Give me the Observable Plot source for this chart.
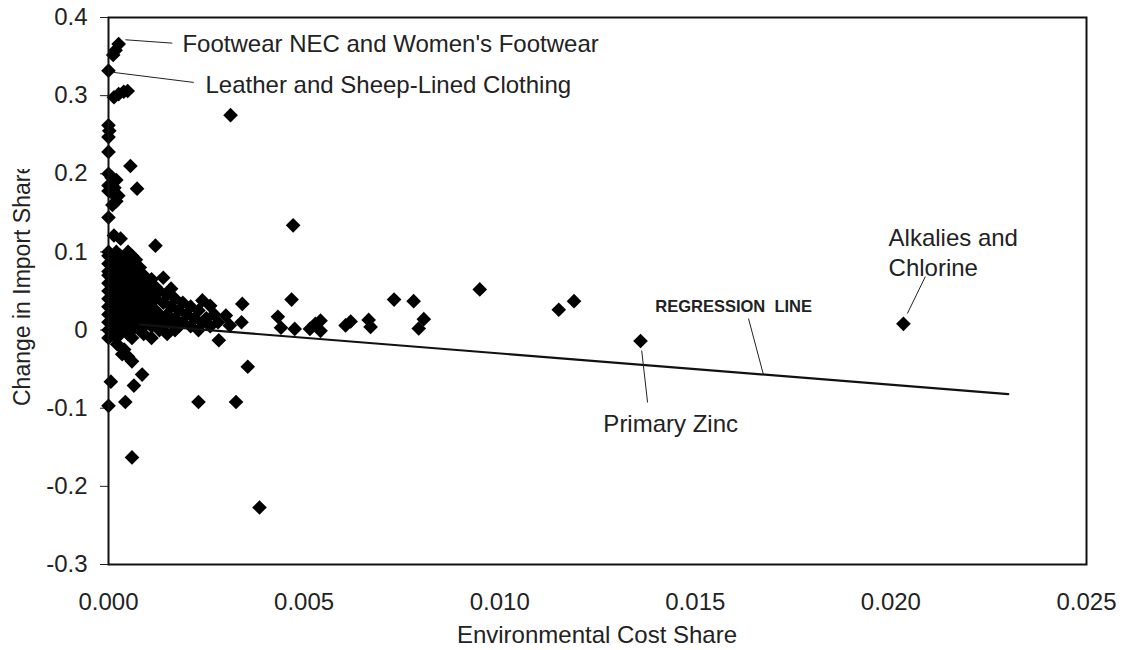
<!DOCTYPE html>
<html>
<head>
<meta charset="utf-8">
<script src="https://cdn.jsdelivr.net/npm/d3@7"></script>
<script src="https://cdn.jsdelivr.net/npm/@observablehq/plot@0.6"></script>
<style>
  html, body { margin: 0; padding: 0; background: #fff; }
  #chart { width: 1122px; height: 650px; }
</style>
</head>
<body>
<div id="chart"></div>
<script>
// ---- Data (x = environmental cost share, y = change in import share) ----
const topOutliers = [
  [0.00026, 0.366], [0.00018, 0.358], [0.00012, 0.352], [0.00000, 0.332],
  [0.00014, 0.298], [0.00026, 0.302], [0.00039, 0.305], [0.00049, 0.306],
  [0.00312, 0.275], [0.00000, 0.262], [0.00002, 0.255], [0.00000, 0.247],
  [0.00000, 0.228], [0.00056, 0.210],
  [0.00000, 0.200], [0.00008, 0.195], [0.00020, 0.192], [0.00010, 0.188],
  [0.00000, 0.185], [0.00015, 0.182], [0.00000, 0.178], [0.00010, 0.175],
  [0.00025, 0.172], [0.00073, 0.181], [0.00020, 0.165], [0.00010, 0.160],
  [0.00000, 0.144], [0.00014, 0.121], [0.00031, 0.117], [0.00120, 0.108]
];

const clusterPoints = [
  [0.0000, 0.100], [0.0002, 0.100], [0.0005, 0.100],
  [0.0000, 0.095], [0.0003, 0.095], [0.0006, 0.095],
  [0.0001, 0.090], [0.0004, 0.090], [0.0007, 0.090],
  [0.0000, 0.085], [0.0002, 0.085], [0.0005, 0.085],
  [0.0001, 0.080], [0.0003, 0.080], [0.0006, 0.080], [0.0008, 0.080],
  [0.0000, 0.075], [0.0002, 0.075], [0.0004, 0.075], [0.0007, 0.075],
  [0.0000, 0.070], [0.0003, 0.070], [0.0005, 0.070], [0.0009, 0.070],
  [0.0014, 0.067],
  [0.0001, 0.065], [0.0004, 0.065], [0.0006, 0.065], [0.0008, 0.065], [0.0011, 0.065],
  [0.0000, 0.060], [0.0002, 0.060], [0.0005, 0.060], [0.0007, 0.060], [0.0010, 0.060],
  [0.0001, 0.055], [0.0003, 0.055], [0.0006, 0.055], [0.0009, 0.055], [0.0012, 0.055],
  [0.0016, 0.053],
  [0.0000, 0.050], [0.0002, 0.050], [0.0004, 0.050], [0.0007, 0.050], [0.0010, 0.050], [0.0013, 0.050],
  [0.0001, 0.045], [0.0003, 0.045], [0.0005, 0.045], [0.0008, 0.045], [0.0011, 0.045], [0.0015, 0.045],
  [0.0000, 0.040], [0.0002, 0.040], [0.0004, 0.040], [0.0006, 0.040], [0.0009, 0.040], [0.0012, 0.040], [0.0017, 0.040],
  [0.0024, 0.038],
  [0.0001, 0.035], [0.0003, 0.035], [0.0005, 0.035], [0.0007, 0.035], [0.0010, 0.035], [0.0014, 0.035], [0.0019, 0.035],
  [0.0026, 0.031],
  [0.0000, 0.030], [0.0002, 0.030], [0.0004, 0.030], [0.0006, 0.030], [0.0008, 0.030], [0.0011, 0.030], [0.0016, 0.030], [0.0021, 0.030],
  [0.0001, 0.025], [0.0003, 0.025], [0.0005, 0.025], [0.0007, 0.025], [0.0009, 0.025], [0.0012, 0.025], [0.0018, 0.025], [0.0023, 0.025],
  [0.0000, 0.020], [0.0002, 0.020], [0.0004, 0.020], [0.0006, 0.020], [0.0008, 0.020], [0.0010, 0.020], [0.0013, 0.020], [0.0015, 0.020], [0.0020, 0.020], [0.0027, 0.020],
  [0.0001, 0.015], [0.0003, 0.015], [0.0005, 0.015], [0.0007, 0.015], [0.0009, 0.015], [0.0011, 0.015], [0.0014, 0.015], [0.0017, 0.015], [0.0022, 0.015], [0.0025, 0.015],
  [0.0000, 0.010], [0.0002, 0.010], [0.0004, 0.010], [0.0006, 0.010], [0.0008, 0.010], [0.0010, 0.010], [0.0012, 0.010], [0.0016, 0.010], [0.0019, 0.010], [0.0024, 0.010], [0.0028, 0.010],
  [0.0001, 0.005], [0.0003, 0.005], [0.0005, 0.005], [0.0007, 0.005], [0.0009, 0.005], [0.0011, 0.005], [0.0014, 0.005], [0.0018, 0.005], [0.0021, 0.005], [0.0026, 0.005],
  [0.0000, 0.000], [0.0002, 0.000], [0.0004, 0.000], [0.0006, 0.000], [0.0008, 0.000], [0.0013, 0.000], [0.0017, 0.000], [0.0023, 0.000],
  [0.0001, -0.005], [0.0003, -0.005], [0.0005, -0.005], [0.0009, -0.005], [0.0015, -0.005],
  [0.0000, -0.010], [0.0002, -0.010], [0.0006, -0.010], [0.0011, -0.010]
];

const midPoints = [
  [0.00342, 0.0335], [0.00300, 0.0185], [0.00340, 0.010], [0.00310, 0.006],
  [0.00433, 0.017], [0.00441, 0.003], [0.00282, -0.013],
  [0.00472, 0.134], [0.00468, 0.039], [0.00476, 0.0015], [0.00515, 0.0015],
  [0.00529, 0.008], [0.00542, 0.012], [0.00542, -0.001], [0.00606, 0.006],
  [0.00619, 0.011], [0.00665, 0.013], [0.00670, 0.004], [0.00730, 0.039],
  [0.00780, 0.037], [0.00806, 0.014], [0.00793, 0.002], [0.00949, 0.052],
  [0.01151, 0.026], [0.01190, 0.037], [0.01360, -0.014], [0.02032, 0.008]
];

const negativePoints = [
  [0.00022, -0.018], [0.00035, -0.031], [0.00040, -0.025], [0.00050, -0.034],
  [0.00060, -0.040], [0.00086, -0.057], [0.00006, -0.066], [0.00065, -0.071],
  [0.00000, -0.097], [0.00043, -0.092], [0.00230, -0.092], [0.00326, -0.092],
  [0.00356, -0.047], [0.00060, -0.163], [0.00386, -0.227]
];

// Regression line endpoints
const regressionX = [0.0008, 0.0230];
const regressionY = [0.007, -0.082];

// Axis ticks
const xTicks = [0, 0.005, 0.010, 0.015, 0.020, 0.025];
const yTicks = [-0.3, -0.2, -0.1, 0, 0.1, 0.2, 0.3, 0.4];

// Annotations (in data units)
const labelText = ["Footwear NEC and Women's Footwear", "Leather and Sheep-Lined Clothing", "Primary Zinc", "Alkalies and\nChlorine"];
const labelX = [0.00189, 0.00248, 0.01265, 0.01994];
const labelY = [0.3677, 0.3152, -0.118, 0.1004];
const leaderX1 = [0.00043, 0.000135, 0.01363, 0.02088, 0.01636];
const leaderY1 = [0.3715, 0.3297, -0.0262, 0.0684, 0.0147];
const leaderX2 = [0.00163, 0.00218, 0.01378, 0.02042, 0.01674];
const leaderY2 = [0.3672, 0.3169, -0.0927, 0.0211, -0.0567];
const regressionLabel = ["REGRESSION  LINE"];
const regressionLabelX = [0.01598];
const regressionLabelY = [0.030];

// ---- Build ----
const allPoints = [...topOutliers, ...clusterPoints, ...midPoints, ...negativePoints];
const regression = regressionX.map((x, i) => ({x, y: regressionY[i]}));
const labels = labelText.map((t, i) => ({t, x: labelX[i], y: labelY[i]}));
const leaders = leaderX1.map((x1, i) => ({x1, y1: leaderY1[i], x2: leaderX2[i], y2: leaderY2[i]}));
const regLab = regressionLabel.map((t, i) => ({t, x: regressionLabelX[i], y: regressionLabelY[i]}));

const font = "'Liberation Sans', Arial, Helvetica, sans-serif";

const chart = Plot.plot({
  width: 1122,
  height: 650,
  marginLeft: 108,
  marginRight: 36,
  marginTop: 17,
  marginBottom: 86,
  style: {fontFamily: font, fontSize: "24px", color: "#222", background: "#fff", overflow: "visible"},
  x: {domain: [0, 0.025], ticks: xTicks, tickFormat: d => d.toFixed(3), tickSize: 0, tickPadding: 28, label: null},
  y: {domain: [-0.3, 0.4], ticks: yTicks, tickFormat: d => d === 0 ? "0" : d.toFixed(1), tickSize: 8, tickPadding: 13, label: null},
  marks: [
    Plot.dot(allPoints, {x: d => d[0], y: d => d[1], symbol: "diamond2", r: 6.6, fill: "#000"}),
    Plot.line(regression, {x: "x", y: "y", stroke: "#111", strokeWidth: 2.2}),
    Plot.link(leaders, {x1: "x1", y1: "y1", x2: "x2", y2: "y2", stroke: "#222", strokeWidth: 1}),
    Plot.text(labels, {x: "x", y: "y", text: "t", textAnchor: "start", fontSize: 24, fill: "#222", lineHeight: 1.25}),
    Plot.text(regLab, {x: "x", y: "y", text: "t", textAnchor: "middle", fontSize: 16.5, fontWeight: "bold", fill: "#222"}),
    Plot.frame({stroke: "#111", strokeWidth: 2})
  ]
});

const svg = d3.select(chart);
// x-axis title
svg.append("text")
  .attr("x", 597).attr("y", 643)
  .attr("text-anchor", "middle")
  .attr("font-family", font).attr("font-size", 24).attr("fill", "#222")
  .text("Environmental Cost Share");
// y-axis title (clipped at top, as in the original)
svg.append("defs").append("clipPath").attr("id", "ytitle-clip")
  .attr("clipPathUnits", "userSpaceOnUse")
  .append("rect").attr("x", 0).attr("y", 169).attr("width", 60).attr("height", 300);
svg.append("g")
  .attr("clip-path", "url(#ytitle-clip)")
  .append("text")
  .attr("transform", "translate(30,406) rotate(-90)")
  .attr("text-anchor", "start")
  .attr("font-family", font).attr("font-size", 23).attr("fill", "#222")
  .text("Change in Import Share");

document.getElementById("chart").appendChild(chart);
</script>
</body>
</html>
